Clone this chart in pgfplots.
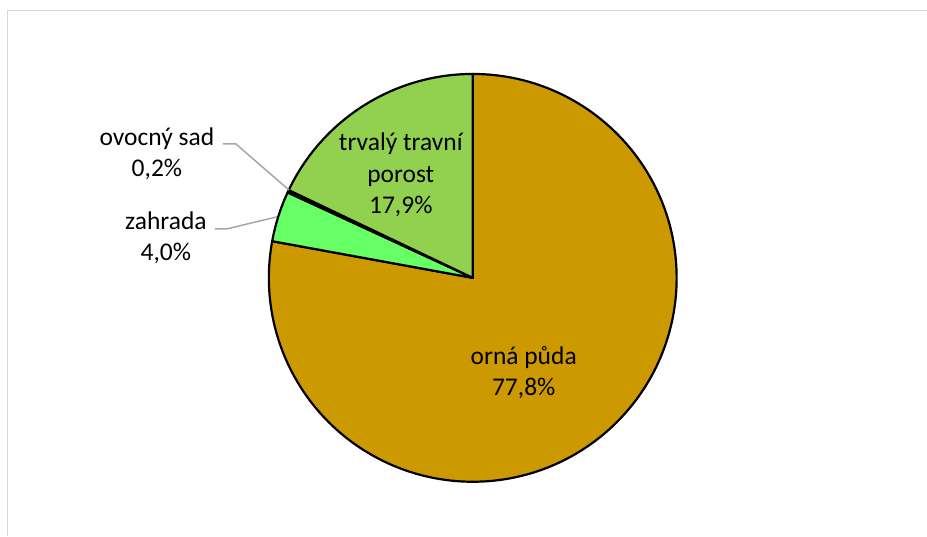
\documentclass[border=0pt]{standalone}
\usepackage{pgfplots}
\usepackage{pgfplotstable}
\pgfplotsset{compat=1.18}
\usepackage{fontspec}
\setmainfont{Carlito}

\definecolor{orna}{HTML}{CC9900}
\definecolor{zahrada}{HTML}{66FF66}
\definecolor{sad}{HTML}{E69A00}
\definecolor{trvaly}{HTML}{92D050}
\definecolor{leader}{HTML}{A6A6A6}
\definecolor{frame}{HTML}{D9D9D9}

% anchored at the baseline of the last line
\tikzset{lbl/.style={font=\fontsize{25.5bp}{31.5bp}\selectfont, align=center, anchor=base, inner sep=0pt}}

% share of each land type, clockwise from 12 o'clock
\pgfplotstableread[col sep=comma]{
name,value,color
orna puda,77.8,orna
zahrada,4.0,zahrada
ovocny sad,0.2,sad
trvaly travni porost,17.9,trvaly
}\piedata

% start/end angle of every wedge
\gdef\total{0}
\pgfplotstableforeachcolumnelement{value}\of\piedata\as\v{%
  \pgfmathsetmacro\tmp{\total+\v}\global\let\total\tmp}
\gdef\startang{90}
\pgfplotstableforeachcolumnelement{value}\of\piedata\as\v{%
  \pgfmathsetmacro\endang{\startang-\v/\total*360}%
  \pgfplotstablegetelem{\pgfplotstablerow}{color}\of\piedata
  \expandafter\xdef\csname wcol\pgfplotstablerow\endcsname{\pgfplotsretval}%
  \expandafter\xdef\csname wa\pgfplotstablerow\endcsname{\startang}%
  \expandafter\xdef\csname wb\pgfplotstablerow\endcsname{\endang}%
  \global\let\startang\endang}

\begin{document}
\begin{tikzpicture}
\begin{axis}[
    x=1bp, y=1bp, y dir=reverse,
    xmin=0, xmax=927, ymin=0, ymax=536,
    hide axis, clip=false,
]
\addplot[draw=none] coordinates {(0,0) (927,536)};

% chart frame
\draw[frame, line width=1bp] (axis cs:7.5,536) -- (axis cs:7.5,11) -- (axis cs:927,11);

% wedges
\pgfplotsinvokeforeach{0,1,2,3}{
  \fill[fill=\csname wcol#1\endcsname, draw=black, line width=2.2bp, line join=round]
    (axis cs:473,278) -- ++(\csname wa#1\endcsname:204bp)
    arc[start angle=\csname wa#1\endcsname, end angle=\csname wb#1\endcsname, radius=204bp] -- cycle;
}

% leader lines
\draw[leader, line width=1.5bp] (axis cs:223,144) -- (axis cs:236,144) -- (axis cs:289,190);
\draw[leader, line width=1.5bp] (axis cs:215,229) -- (axis cs:227,229) -- (axis cs:277,217);

% data labels
\node[lbl] at (axis cs:524,396) {orná půda\\77,8\%};
\node[lbl] at (axis cs:401,214) {trvalý travní\\porost\\17,9\%};
\node[lbl] at (axis cs:157,177) {ovocný sad\\0,2\%};
\node[lbl] at (axis cs:166,261) {zahrada\\4,0\%};
\end{axis}
\end{tikzpicture}
\end{document}
